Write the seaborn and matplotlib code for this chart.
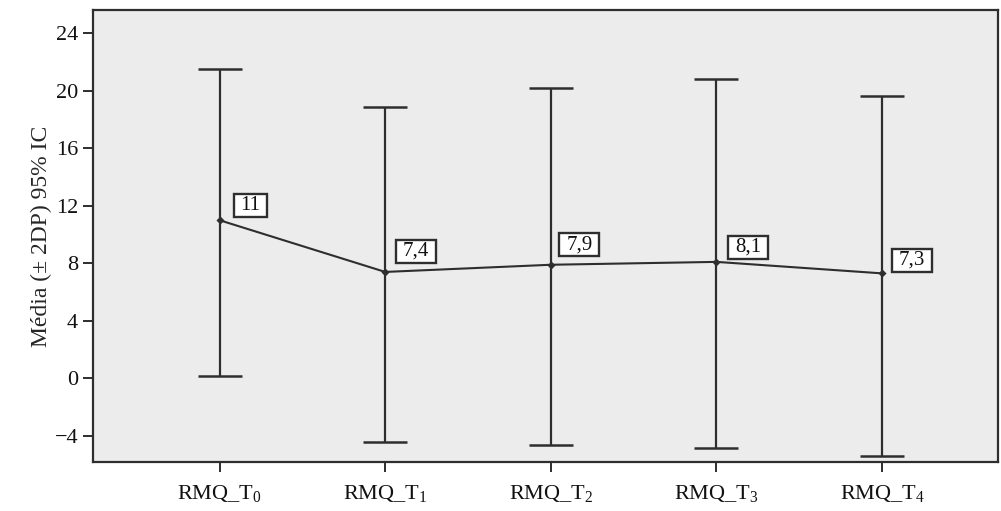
import matplotlib
matplotlib.use("Agg")
import matplotlib.pyplot as plt
from matplotlib.path import Path
import seaborn as sns
import pandas as pd
import numpy as np

categories = ["RMQ_T0", "RMQ_T1", "RMQ_T2", "RMQ_T3", "RMQ_T4"]
tick_labels = [r"RMQ_T$_0$", r"RMQ_T$_1$", r"RMQ_T$_2$", r"RMQ_T$_3$", r"RMQ_T$_4$"]
means = [11.0, 7.4, 7.9, 8.1, 7.3]
upper = [21.56, 18.85, 20.21, 20.80, 19.66]
lower = [0.18, -4.46, -4.67, -4.88, -5.43]
mean_labels = ["11", "7,4", "7,9", "8,1", "7,3"]
yticks = [-4, 0, 4, 8, 12, 16, 20, 24]
ytick_labels = ["\u22124", "0", "4", "8", "12", "16", "20", "24"]

# label box offsets in points (style)
label_offsets = [(22.3, 10.4), (22.3, 15.0), (20.6, 14.4), (22.8, 10.6), (21.5, 9.4)]

sns.set_style("white")
plt.rcParams["font.family"] = ["Liberation Serif", "DejaVu Serif"]
plt.rcParams["mathtext.fontset"] = "custom"
plt.rcParams["mathtext.rm"] = "Liberation Serif"
plt.rcParams["mathtext.it"] = "Liberation Serif"


def wide_box(x0, y0, width, height, mutation_size):
    padx = 0.33 * mutation_size
    pady = 0.1 * mutation_size
    x0, y0 = x0 - padx, y0 - pady
    x1, y1 = x0 + width + 2 * padx, y0 + height + 2 * pady
    return Path([(x0, y0), (x1, y0), (x1, y1), (x0, y1), (x0, y0)], closed=True)


df = pd.DataFrame({"cat": categories, "mean": means})

fig = plt.figure(figsize=(10.01, 5.11), dpi=100)
ax = fig.add_axes([0.0926, 0.0965, 0.9044, 0.8835])
ax.set_facecolor("#ECECEC")

dark = "#2e2e2e"
pos = np.arange(len(categories))
ax.errorbar(pos, means,
            yerr=[np.array(means) - np.array(lower), np.array(upper) - np.array(means)],
            fmt="none", ecolor=dark, elinewidth=1.6, capsize=16, capthick=1.8, zorder=2)

sns.pointplot(data=df, x="cat", y="mean", errorbar=None, color=dark,
              markers="D", markersize=3, linewidth=1.5, ax=ax, zorder=3)

for i, (m, lab) in enumerate(zip(means, mean_labels)):
    ax.annotate(lab, xy=(i, m), xytext=label_offsets[i], textcoords="offset points",
                ha="center", va="center", fontsize=15, color="#111111",
                bbox=dict(boxstyle=wide_box, fc="white", ec=dark, lw=1.7),
                zorder=5)

ax.set_xlim(-0.766, 4.70)
ax.set_ylim(-5.81, 25.62)
ax.set_yticks(yticks)
ax.set_yticklabels(ytick_labels, fontsize=16)
ax.set_xticks(pos)
ax.set_xticklabels(tick_labels, fontsize=16)
ax.set_xlabel("")
ax.set_ylabel("Média (± 2DP) 95% IC", fontsize=17, labelpad=2)

for s in ax.spines.values():
    s.set_color(dark)
    s.set_linewidth(1.6)
ax.tick_params(axis="both", direction="out", length=7, width=1.4, color=dark,
               left=True, bottom=True, labelcolor="#111111")
ax.tick_params(axis="x", pad=8)

fig.savefig("out.png", dpi=100, facecolor="white")
